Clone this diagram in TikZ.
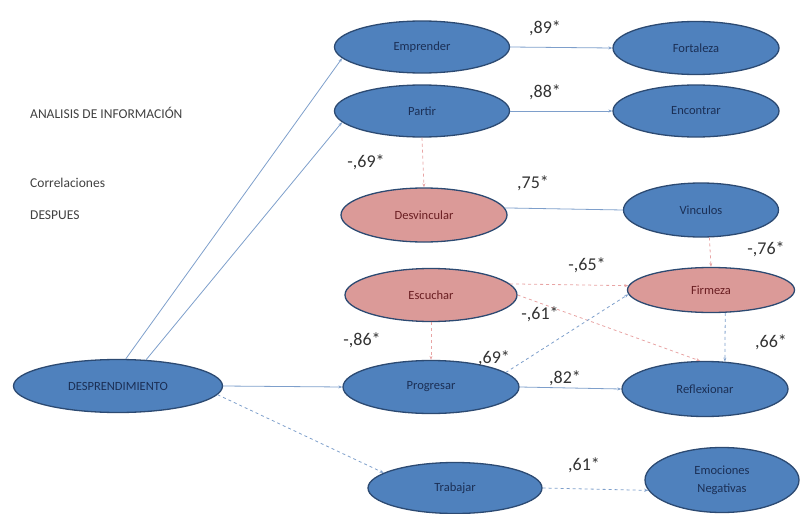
\documentclass[tikz,border=0pt]{standalone}
\usepackage{fontspec}
\setmainfont{Carlito}
\usetikzlibrary{shapes.geometric,arrows.meta}
\definecolor{nodeblue}{HTML}{4F81BD}
\definecolor{nodepink}{HTML}{DB9A98}
\definecolor{rimblue}{HTML}{2C4A72}
\definecolor{navytext}{HTML}{1B2F55}
\definecolor{redtext}{HTML}{6A1E22}
\definecolor{lineblue}{HTML}{7E9FCB}
\definecolor{linepink}{HTML}{E8A4A4}
\begin{document}
\begin{tikzpicture}[x=1pt,y=-1pt,
  bnode/.style={ellipse, draw=rimblue, line width=1.3pt, fill=nodeblue, inner sep=0pt,
    font=\fontsize{12.5}{14}\selectfont, text=navytext, align=center},
  pnode/.style={bnode, fill=nodepink, text=redtext},
  lbl/.style={font=\fontsize{18}{20}\selectfont, text=black!80, inner sep=0pt},
  side/.style={font=\fontsize{13.5}{15}\selectfont, text=black!75, anchor=west, inner sep=0pt},
  solidcon/.style={draw=lineblue, line width=0.8pt, -{Stealth[length=4pt,width=3pt]}},
  bluedash/.style={draw=lineblue, line width=0.8pt, dash pattern=on 3pt off 3pt, -{Stealth[length=4pt,width=3pt]}},
  pinkdash/.style={draw=linepink, line width=0.8pt, dash pattern=on 3pt off 3pt, -{Stealth[length=4pt,width=3pt]}}
]
\useasboundingbox (0,0) rectangle (801,514);

% side texts
\node[side] (t1) at (30,113) {ANALISIS DE INFORMACIÓN};
\node[side] (t2) at (30,183) {Correlaciones};
\node[side] (t3) at (30,215) {DESPUES};

% nodes
\node[bnode, minimum width=175pt, minimum height=52pt] (emp) at (422,47) {Emprender};
\node[bnode, minimum width=175pt, minimum height=52pt] (par) at (422,111) {Partir};
\node[bnode, minimum width=166pt, minimum height=53pt] (fort) at (696,48) {Fortaleza};
\node[bnode, minimum width=166pt, minimum height=52pt] (enc) at (696,111) {Encontrar};
\node[pnode, minimum width=166pt, minimum height=54pt] (desv) at (424,215) {Desvincular};
\node[bnode, minimum width=155pt, minimum height=54pt] (vinc) at (701,210) {Vinculos};
\node[pnode, minimum width=172pt, minimum height=53pt] (esc) at (431,295) {Escuchar};
\node[pnode, minimum width=167pt, minimum height=45pt] (firm) at (711,290) {Firmeza};
\node[bnode, minimum width=209pt, minimum height=53pt] (desp) at (118,386) {DESPRENDIMIENTO};
\node[bnode, minimum width=176pt, minimum height=53pt] (prog) at (431,387) {Progresar};
\node[bnode, minimum width=166pt, minimum height=55pt] (refl) at (705,389) {Reflexionar};
\node[bnode, minimum width=174pt, minimum height=51pt] (trab) at (455,488) {Trabajar};
\node[bnode, minimum width=154pt, minimum height=65pt, font=\fontsize{12.5}{18}\selectfont] (emoc) at (722,480) {Emociones\\Negativas};

% connectors
\draw[solidcon] (desp.74) -- (emp.188);
\draw[solidcon] (desp.43) -- (par.188);
\draw[solidcon] (desp.east) -- (prog.west);
\draw[bluedash] (desp.-5) -- (trab.168);
\draw[solidcon] (emp.east) -- (fort.west);
\draw[solidcon] (par.east) -- (enc.west);
\draw[pinkdash] (par.south) -- (desv.north);
\draw[draw=lineblue, line width=0.8pt] (desv.5) -- (vinc.west);
\draw[pinkdash] (vinc.-73) -- (firm.north);
\draw[pinkdash] (esc.8) -- (firm.177);
\draw[pinkdash] (esc.east) -- (refl.100);
\draw[bluedash] (prog.11) -- (firm.183);
\draw[pinkdash] (esc.south) -- (prog.north);
\draw[solidcon] (prog.east) -- (refl.west);
\draw[bluedash] (firm.-58) -- (refl.54);
\draw[bluedash] (trab.east) -- (emoc.188);

% labels
\node[lbl] (l89) at (545,28) {,89*};
\node[lbl] (l88) at (545,92) {,88*};
\node[lbl] (l69a) at (366,162) {-,69*};
\node[lbl] (l75) at (533,183) {,75*};
\node[lbl] (l76) at (766,249) {-,76*};
\node[lbl] (l65) at (587,265) {-,65*};
\node[lbl] (l61a) at (540,314) {-,61*};
\node[lbl] (l86) at (362,340) {-,86*};
\node[lbl] (l69b) at (494,358) {,69*};
\node[lbl] (l82) at (565,378) {,82*};
\node[lbl] (l66) at (771,342) {,66*};
\node[lbl] (l61b) at (584,465) {,61*};
\end{tikzpicture}
\end{document}
